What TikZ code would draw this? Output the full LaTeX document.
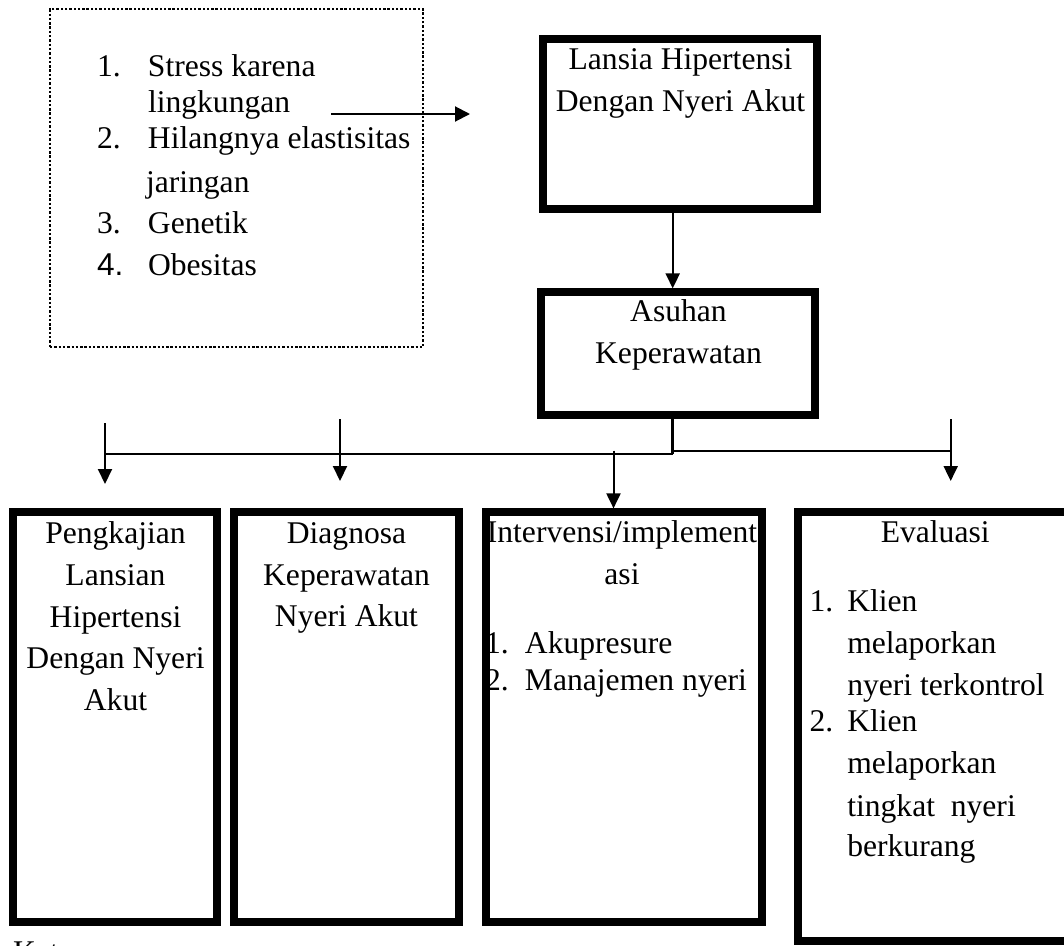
\documentclass[tikz,border=0pt]{standalone}
\usepackage{fontspec}
\setmainfont{Liberation Serif}
\newfontfamily\arialf{Liberation Sans}
\usetikzlibrary{arrows.meta}
\begin{document}
\begin{tikzpicture}[x=1pt,y=-1pt,
  txt/.style={inner sep=0pt, outer sep=0pt, anchor=base},
  tbox/.style={draw, line width=7.8pt, rectangle, inner sep=0pt},
  dbox/.style={draw, line width=2.2pt, dash pattern=on 2.4pt off 1.9pt, rectangle, inner sep=0pt},
  conn/.style={line width=2pt},
  arr/.style={conn, -{Triangle[length=15pt,width=14pt]}}]
\useasboundingbox (0,0) rectangle (1064,945);
\clip (0,0) rectangle (1064,945);

% ---- texts (base anchor = baseline of the last line) ----
\node[txt, anchor=base west, align=left, font=\fontsize{31.6}{36}\selectfont] (risk) at (97,275)
 {\makebox[51pt][l]{1.}Stress karena\\
  \hspace*{51pt}lingkungan\\
  \makebox[51pt][l]{2.}Hilangnya elastisitas\\[8pt]
  \hspace*{49pt}jaringan\\[5pt]
  \makebox[51pt][l]{3.}Genetik\\[6pt]
  \makebox[51pt][l]{\arialf 4.}Obesitas};

\node[txt, align=center, font=\fontsize{31.6}{42}\selectfont] (tlansia) at (680.5,111)
 {Lansia Hipertensi\\Dengan Nyeri Akut};
\node[txt, align=center, font=\fontsize{31.6}{41.6}\selectfont] (tasuhan) at (678.5,363.3)
 {Asuhan\\Keperawatan};
\node[txt, align=center, font=\fontsize{31.6}{41.7}\selectfont] (tpeng) at (115.5,710.5)
 {Pengkajian\\Lansian\\Hipertensi\\Dengan Nyeri\\Akut};
\node[txt, align=center, font=\fontsize{31.6}{41.7}\selectfont] (tdiag) at (346.5,626.7)
 {Diagnosa\\Keperawatan\\Nyeri Akut};
\node[txt, align=center, font=\fontsize{31.6}{41.6}\selectfont] (tint) at (622,584.3)
 {Intervensi/implement\\asi};
\node[txt, anchor=base west, align=left, font=\fontsize{31.6}{36.7}\selectfont] (tintl) at (485,690)
 {\makebox[40pt][l]{1.}Akupresure\\\makebox[40pt][l]{2.}Manajemen nyeri};
\node[txt, font=\fontsize{31.6}{41.6}\selectfont] (teval) at (935.2,542.7) {Evaluasi};
\node[txt, anchor=base west, align=left, font=\fontsize{31.6}{41.6}\selectfont] (tevall) at (809.5,856.7)
 {\makebox[37.8pt][l]{1.}Klien\\
  \hspace*{37.8pt}melaporkan\\
  \hspace*{37.8pt}nyeri terkontrol\\[-4.9pt]
  \makebox[37.8pt][l]{2.}Klien\\
  \hspace*{37.8pt}melaporkan\\[1.8pt]
  \hspace*{37.8pt}tingkat\ \ nyeri\\[-1.6pt]
  \hspace*{37.8pt}berkurang};
\node[txt, anchor=base west, font=\fontsize{31.6}{41.6}\selectfont] (ket) at (13,962) {Ket};

% ---- boxes ----
\node[dbox, minimum width=373pt, minimum height=337.7pt] (faktor) at (236.5,178.2) {};
\node[tbox, minimum width=273.7pt, minimum height=170.3pt] (lansia) at (679.85,124.15) {};
\node[tbox, minimum width=274.3pt, minimum height=123pt] (asuhan) at (677.85,353.8) {};
\node[tbox, minimum width=203.7pt, minimum height=409.4pt] (peng) at (115.15,717) {};
\node[tbox, minimum width=224.7pt, minimum height=409.4pt] (diag) at (346.35,717) {};
\node[tbox, minimum width=276pt, minimum height=409.4pt] (interv) at (623.7,717) {};
\node[tbox, minimum width=276.7pt, minimum height=428.7pt] (eval) at (936.65,726.65) {};

% ---- connectors ----
\coordinate (s1) at (331,114);
\coordinate (s2) at (470,114);
\draw[arr, -{Triangle[length=15pt,width=15pt]}] (s1) -- (s2);

\coordinate (ax) at (672.7,0);
\draw[arr] (lansia.south -| ax) -- (asuhan.north -| ax);

\coordinate (j) at (672.7,453.7);
\coordinate (jr) at (672.7,450.7);
\draw[line width=3pt] (asuhan.south -| ax) -- (j);
\coordinate (hl) at (105,453.7);
\coordinate (hr) at (950.7,450.7);
\draw[conn] (j) -- (hl);
\draw[conn] (jr) -- (hr);

\coordinate (a1s) at (105,423.3);
\coordinate (a1e) at (105,484);
\draw[arr] (a1s) -- (a1e);
\coordinate (a2s) at (340,419);
\coordinate (a2e) at (340,481);
\draw[arr] (a2s) -- (a2e);
\coordinate (a3s) at (613.5,450.7);
\draw[arr] (a3s) -- (a3s |- interv.north);
\coordinate (a4s) at (950.7,419);
\coordinate (a4e) at (950.7,481);
\draw[arr] (a4s) -- (a4e);
\end{tikzpicture}
\end{document}
